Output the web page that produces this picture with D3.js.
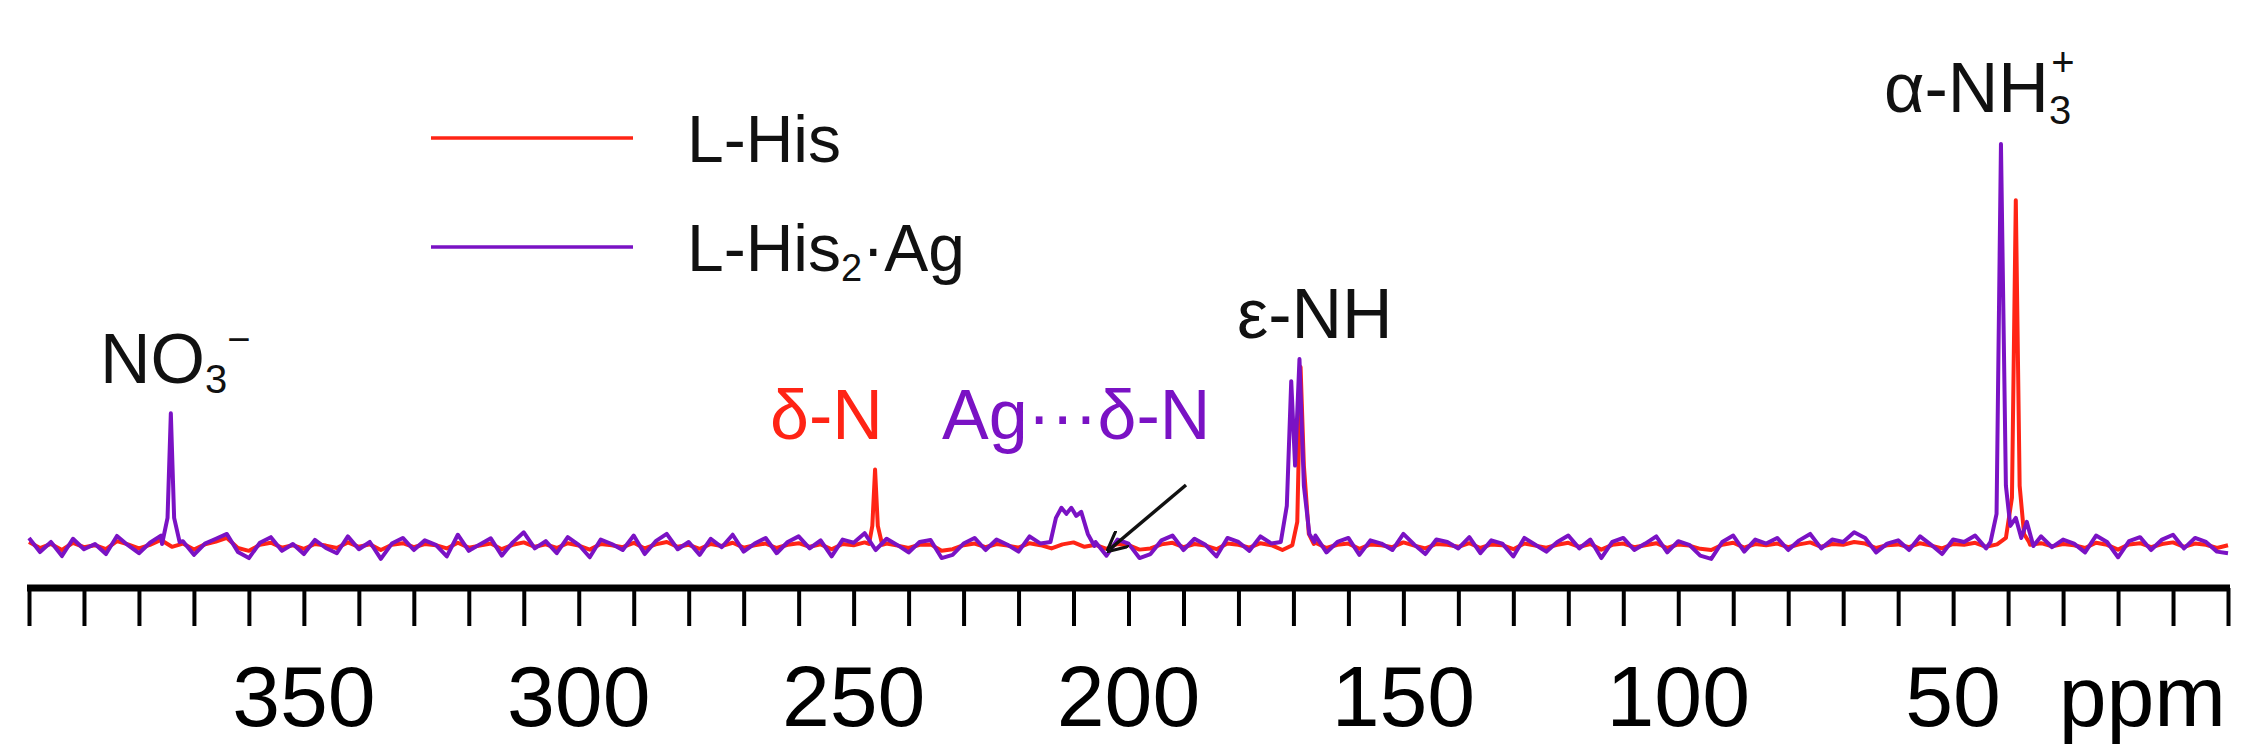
<!DOCTYPE html>
<html>
<head>
<meta charset="utf-8">
<script src="https://cdn.jsdelivr.net/npm/d3@7"></script>
<style>
  body { margin: 0; background: #fff; }
  text { font-family: "Liberation Sans", Arial, sans-serif; }
</style>
</head>
<body>
<div id="chart"></div>
<script>
// ppm grid for baseline noise: 400 down to 0, every 2 ppm
let noiseStart = 400, noiseStep = 2;

// baseline noise (arbitrary units, alpha-NH3+ purple peak = 100)
let hisNoise = [
  1.0, -0.5, 0.5, -1.0, 0.8, -0.3, 0.2, -0.8, 1.2, 0.4, -0.6, 0.3, 1.5, -0.2, 0.6, -0.9, 0.4, 1.1, 2.0, -0.5,
  -1.2, 0.3, 0.8, -0.4, 0.2, -0.7, 0.5, 0.1, -0.5, 0.9, -0.2, 0.4, -1.0, 0.3, 0.7, -0.3, 0.5, 0.2, -0.6, 0.8,
  -0.4, 0.1, 0.6, -0.8, 0.3, 0.9, -0.2, 0.4, -0.5, 0.7, 0.1, -0.9, 0.5, 0.2, -0.3, 0.8, -0.6, 0.4, 1.0, -0.2,
  0.3, -0.7, 0.5, 0.0, 0.8, -0.4, 0.2, 0.6, -0.5, 0.3, 0.7, -0.2, 0.4, -0.8, 0.5, 0.2, 0.9, -0.3, 0.6, 0.1,
  -0.5, 0.3, 0.4, -1.2, -0.8, 0.2, 0.6, -0.3, 0.5, 0.1, -0.4, 0.7, 0.2, -0.6, 0.4, 0.9, -0.2, 0.3, -0.7, 0.5,
  0.2, -0.9, -0.6, 0.4, 0.8, -0.3, 0.5, 0.1, -0.8, 0.6, 0.3, -0.4, 0.7, 0.2, -1.0, 0.5, 0.1, 0.8, -0.5, 0.3,
  0.6, -0.7, 0.4, 0.2, -0.3, 0.9, 0.1, -0.6, 0.5, 0.3, -0.2, 0.7, -0.5, 0.4, 0.2, -0.8, 0.6, 0.1, -0.4, 0.3,
  0.8, -0.2, 0.5, -0.9, 0.3, 0.6, -0.3, 0.2, 0.7, -0.5, 0.4, 0.1, -0.7, -1.0, 0.3, 0.8, -0.4, 0.5, 0.2, 0.6,
  -0.3, 0.4, 0.9, -0.2, 0.5, 0.3, 1.0, 0.6, -0.5, 0.2, 0.4, -0.3, 0.7, 0.1, -0.6, 0.5, 0.3, 0.8, -0.2, 0.4,
  0.6, -0.4, 0.3, 0.7, -0.1, 0.5, 0.2, -0.5, 0.8, 0.3, -0.9, 0.4, 0.7, -0.3, 0.5, 0.9, -0.2, 0.6, 0.3, -0.5,
  0.2
];
let agNoise = [
  2.0, -1.5, 1.0, -2.5, 1.8, -0.8, 0.5, -2.0, 2.5, 0.2, -1.8, 0.8, 2.6, -1.0, 1.2, -2.2, 0.6, 1.8, 3.0, -1.5,
  -3.0, 0.8, 2.2, -1.2, 0.5, -2.0, 1.5, -0.5, -1.8, 2.4, -0.8, 1.0, -3.2, 0.6, 2.0, -1.0, 1.4, 0.3, -2.6, 2.8,
  -1.2, 0.4, 1.9, -2.4, 0.9, 3.4, -0.6, 1.2, -1.8, 2.2, 0.3, -2.8, 1.6, 0.5, -1.0, 2.6, -2.0, 1.2, 3.0, -0.8,
  1.0, -2.2, 1.8, -0.3, 2.8, -1.4, 0.6, 2.0, -1.8, 1.0, 2.4, -0.6, 1.4, -2.6, 1.6, 0.8, 3.2, -1.0, 1.8, 0.2,
  -1.6, 1.0, 1.5, -3.0, -2.2, 0.6, 2.0, -1.0, 1.6, 0.3, -1.4, 2.4, 0.6, -2.0, 1.2, 3.8, -0.8, 1.0, -2.4, 1.6,
  0.6, -3.0, -2.0, 1.4, 2.6, -1.0, 1.8, 0.3, -2.6, 2.0, 1.0, -1.2, 2.4, 0.6, -3.2, 1.6, 0.4, 2.6, -1.6, 1.0,
  2.0, -2.2, 1.4, 0.6, -1.0, 3.0, 0.3, -2.0, 1.6, 1.0, -0.6, 2.2, -1.8, 1.4, 0.6, -2.6, 2.0, 0.3, -1.4, 1.0,
  2.6, -0.6, 1.6, -3.0, 1.0, 2.0, -1.0, 0.6, 2.4, -1.6, 1.2, 0.3, -2.4, -3.2, 1.0, 2.6, -1.4, 1.6, 0.6, 2.0,
  -1.0, 1.4, 3.0, -0.6, 1.6, 1.0, 3.4, 2.0, -1.6, 0.6, 1.4, -1.0, 2.4, 0.3, -2.0, 1.6, 1.0, 2.6, -0.6, 1.4,
  2.0, -1.4, 1.0, 2.4, -0.3, 1.6, 0.6, -1.6, 2.6, 1.0, -2.8, 1.2, 2.2, -1.0, 1.6, 2.8, -0.6, 2.0, 1.0, -1.4,
  -1.8
];

// peak points [ppm, intensity]
let hisPeaks = [
  [[247.2, 0.5], [246.6, 5], [246.1, 19], [245.6, 5], [244.8, 0.3]],
  [[170.2, 0.2], [169.3, 6], [168.7, 44.5], [168.1, 20], [167.2, 3], [166.3, 0.5]],
  [[40.4, 2], [39.3, 12], [38.6, 86], [37.9, 15], [37.1, 3], [36.2, 1]]
];
let agPeaks = [
  [[375.8, 0.5], [374.8, 7], [374.2, 33], [373.6, 7], [372.6, 1]],
  [[214.2, 1], [213.2, 7], [212.2, 9.5], [211.3, 8], [210.4, 9.5], [209.5, 7.5], [208.6, 8.5], [207.4, 3], [206.2, 0]],
  [[172.3, 1], [171.2, 10], [170.4, 41], [169.7, 20], [168.9, 46.5], [168.1, 15], [167.1, 3], [166.2, 1]],
  [[43.2, 1], [42.1, 8], [41.3, 100], [40.4, 15], [39.6, 5], [38.6, 7], [37.6, 2], [36.6, 6], [35.4, 0]]
];

let tickValues = [350, 300, 250, 200, 150, 100, 50];

let width = 2255, height = 751;
let colorHis = '#ff2415', colorAg = '#7a12c4';

let svg = d3.select('#chart')
  .append('svg')
    .attr('width', width)
    .attr('height', height);

// X Scale (ppm runs right to left)
let X = d3.scaleLinear().domain([400, 0]).range([29, 2228]);
// Y Scale
let Y = d3.scaleLinear().domain([0, 100]).range([546, 144]);

function buildSeries(noise, peaks) {
  let pts = noise.map(function (v, i) { return [noiseStart - i * noiseStep, v]; });
  pts = pts.filter(function (p) {
    return !peaks.some(function (pk) {
      return p[0] <= pk[0][0] && p[0] >= pk[pk.length - 1][0];
    });
  });
  peaks.forEach(function (pk) { pts = pts.concat(pk); });
  return pts.sort(function (a, b) { return b[0] - a[0]; });
}

let line = d3.line()
  .x(function (d) { return X(d[0]); })
  .y(function (d) { return Y(d[1]); });

svg.append('path')
  .datum(buildSeries(hisNoise, hisPeaks))
  .attr('fill', 'none')
  .attr('stroke', colorHis)
  .attr('stroke-width', 4)
  .attr('stroke-linejoin', 'round')
  .attr('d', line);

svg.append('path')
  .datum(buildSeries(agNoise, agPeaks))
  .attr('fill', 'none')
  .attr('stroke', colorAg)
  .attr('stroke-width', 4)
  .attr('stroke-linejoin', 'round')
  .attr('d', line);

// X Axis
let xAxis = svg.append('g')
  .attr('transform', 'translate(0,588)')
  .call(d3.axisBottom(X).ticks(40).tickSize(38).tickFormat(''));
xAxis.select('.domain').remove();
xAxis.selectAll('line').attr('stroke', '#000').attr('stroke-width', 4);
svg.append('line')
  .attr('x1', X(400) - 2).attr('x2', X(0) + 2)
  .attr('y1', 588).attr('y2', 588)
  .attr('stroke', '#000').attr('stroke-width', 7);

svg.selectAll('.tlabel')
  .data(tickValues)
  .enter().append('text')
    .attr('class', 'tlabel')
    .attr('x', function (d) { return X(d); })
    .attr('y', 726)
    .attr('text-anchor', 'middle')
    .style('font-family', '"Liberation Sans Narrow", "Liberation Sans", Arial, sans-serif')
    .attr('font-size', '86px')
    .text(function (d) { return d; });

svg.append('text')
  .attr('x', 2226).attr('y', 726)
  .attr('text-anchor', 'end')
  .style('font-family', '"Liberation Sans Narrow", "Liberation Sans", Arial, sans-serif')
  .attr('font-size', '86px')
  .text('ppm');

// Legend
let legend = [
  { name: 'L-His', sub: '', rest: '', color: colorHis, y: 138 },
  { name: 'L-His', sub: '2', rest: '\u00b7Ag', color: colorAg, y: 247 }
];
legend.forEach(function (l) {
  svg.append('line')
    .attr('x1', 431).attr('x2', 633)
    .attr('y1', l.y).attr('y2', l.y)
    .attr('stroke', l.color).attr('stroke-width', 3.5);
  let t = svg.append('text')
    .attr('x', 687).attr('y', l.y + 24)
    .attr('font-size', '66px')
    .attr('fill', '#111');
  t.append('tspan').text(l.name);
  if (l.sub) {
    t.append('tspan').attr('font-size', '38px').attr('dy', 10).text(l.sub);
    t.append('tspan').attr('dy', -10).text(l.rest);
  }
});

// Peak labels
let lab1 = svg.append('text').attr('x', 100).attr('y', 383).attr('font-size', '70px').attr('fill', '#111');
lab1.append('tspan').text('NO');
lab1.append('tspan').attr('font-size', '40px').attr('dy', 10).text('3');
lab1.append('tspan').attr('font-size', '40px').attr('dy', -40).text('\u2212');

svg.append('text').attr('x', 770).attr('y', 439).attr('font-size', '70px')
  .attr('fill', colorHis).text('\u03b4-N');

svg.append('text').attr('x', 942).attr('y', 439).attr('font-size', '70px')
  .attr('fill', colorAg).text('Ag\u00b7\u00b7\u00b7\u03b4-N');

svg.append('text').attr('x', 1237).attr('y', 338).attr('font-size', '70px')
  .attr('fill', '#111').text('\u03b5-NH');

let lab5 = svg.append('text').attr('x', 1884).attr('y', 112).attr('font-size', '70px').attr('fill', '#111');
lab5.append('tspan').text('\u03b1-NH');
lab5.append('tspan').attr('font-size', '40px').attr('dy', 12).text('3');
lab5.append('tspan').attr('font-size', '40px').attr('dx', -20).attr('dy', -48).text('+');

// Arrow
svg.append('defs').append('marker')
  .attr('id', 'arr').attr('viewBox', '0 0 10 10')
  .attr('refX', 8).attr('refY', 5)
  .attr('markerWidth', 6).attr('markerHeight', 6)
  .attr('orient', 'auto')
  .append('path').attr('d', 'M0,0 L10,5 L0,10').attr('fill', 'none')
  .attr('stroke', '#111').attr('stroke-width', 1.5);
svg.append('line')
  .attr('x1', 1186).attr('y1', 485).attr('x2', 1110).attr('y2', 549)
  .attr('stroke', '#111').attr('stroke-width', 3.5)
  .attr('marker-end', 'url(#arr)');
</script>
</body>
</html>
